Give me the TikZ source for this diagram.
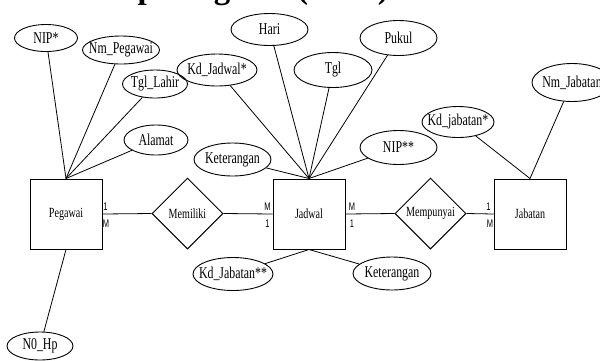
\documentclass[tikz,border=0pt]{standalone}
\usepackage{fontspec}
\setmainfont{Liberation Serif}
\newfontfamily\attrfont[FakeStretch=0.72]{Liberation Serif}
\newfontfamily\cardfont[FakeStretch=0.68]{Liberation Sans}
\usetikzlibrary{shapes.geometric}
\begin{document}
\begin{tikzpicture}[x=1pt,y=-1pt,
  attr/.style={draw, ellipse, inner sep=0pt, line width=0.9pt,
    font=\attrfont\fontsize{16.5}{18}\selectfont},
  ent/.style={draw, rectangle, minimum width=72pt, minimum height=70pt,
    inner sep=0pt, line width=1pt, font=\attrfont\fontsize{14}{16}\selectfont},
  rel/.style={draw, diamond, minimum width=71pt, minimum height=71pt,
    inner sep=0pt, line width=1pt, font=\attrfont\fontsize{14}{16}\selectfont},
  card/.style={inner sep=0pt, font=\cardfont\fontsize{11}{12}\selectfont},
  link/.style={line width=0.8pt},
  titletext/.style={inner sep=0pt, anchor=base west, font=\bfseries\fontsize{33}{36}\selectfont}]
\useasboundingbox (0,0) rectangle (600,360);

% clipped title (only descenders visible)
\node[titletext] (title) at (-22,-2) {Relationship Diagram (ERD)};

% entities and relationships
\node[ent] (peg) at (66,214) {\makebox[0pt]{Pegawai}};
\node[ent] (jad) at (309,214) {\makebox[0pt]{Jadwal}};
\node[ent] (jab) at (530,214) {\makebox[0pt]{Jabatan}};
\node[rel] (mem) at (187.5,213.5) {\makebox[0pt]{Memiliki}};
\node[rel] (mmp) at (430.5,213.5) {\makebox[0pt]{Mempunyai}};

% attributes
\node[attr, minimum width=63pt, minimum height=27pt] (nip) at (46,38) {\makebox[0pt]{NIP*}};
\node[attr, minimum width=77pt, minimum height=28pt] (nmp) at (121,50) {\makebox[0pt]{Nm\_Pegawai}};
\node[attr, minimum width=65pt, minimum height=28pt] (tgll) at (155,84) {\makebox[0pt]{Tgl\_Lahir}};
\node[attr, minimum width=64pt, minimum height=30pt] (alm) at (156,140) {\makebox[0pt]{Alamat}};
\node[attr, minimum width=66pt, minimum height=28pt] (nohp) at (40,346) {\makebox[0pt]{N0\_Hp}};

\node[attr, minimum width=80pt, minimum height=32pt] (kdj) at (217,70) {\makebox[0pt]{Kd\_Jadwal*}};
\node[attr, minimum width=77pt, minimum height=32pt] (hari) at (269.5,29.5) {\makebox[0pt]{Hari}};
\node[attr, minimum width=78pt, minimum height=35pt] (tgl) at (333,70) {\makebox[0pt]{Tgl}};
\node[attr, minimum width=77pt, minimum height=35pt] (pkl) at (398.5,38) {\makebox[0pt]{Pukul}};
\node[attr, minimum width=77pt, minimum height=33pt] (ket1) at (232.5,159.5) {\makebox[0pt]{Keterangan}};
\node[attr, minimum width=77pt, minimum height=34pt] (nip2) at (398.5,147.5) {\makebox[0pt]{NIP**}};
\node[attr, minimum width=80pt, minimum height=33pt] (kdjb2) at (233,274) {\makebox[0pt]{Kd\_Jabatan**}};
\node[attr, minimum width=78pt, minimum height=33pt] (ket2) at (392,273.5) {\makebox[0pt]{Keterangan}};

\node[attr, minimum width=72pt, minimum height=31pt] (kdjb) at (458,122) {\makebox[0pt]{Kd\_jabatan*}};
\node[attr, minimum width=80pt, minimum height=38pt] (nmj) at (572,82.5) {\makebox[0pt]{Nm\_Jabatan}};

% relationship lines
\draw[link] (peg.east) -- (mem.west);
\draw[link] (mem.east) -- (jad.west);
\draw[link] (jad.east) -- (mmp.west);
\draw[link] (mmp.east) -- (jab.west);

% attribute lines
\foreach \a in {nip,nmp,tgll,alm} \draw[link] (\a) -- (peg.north);
\draw[link] (nohp) -- (peg.south);
\foreach \a in {kdj,hari,tgl,pkl,ket1,nip2} \draw[link] (\a) -- (jad.north);
\foreach \a in {kdjb2,ket2} \draw[link] (\a) -- (jad.south);
\foreach \a in {kdjb,nmj} \draw[link] (\a) -- (jab.north);

% cardinalities
\node[card] (c1) at (105.5,207) {1};
\node[card] (c2) at (106,224) {M};
\node[card] (c3) at (267.5,207) {M};
\node[card] (c4) at (267.5,224) {1};
\node[card] (c5) at (352,207) {M};
\node[card] (c6) at (352,224) {1};
\node[card] (c7) at (488.5,207) {1};
\node[card] (c8) at (490,224) {M};
\end{tikzpicture}
\end{document}
